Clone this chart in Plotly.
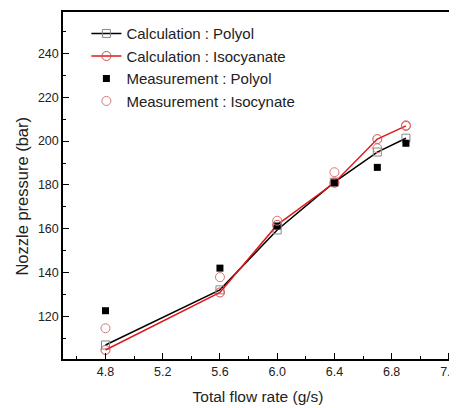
import plotly.graph_objects as go

flow = [4.8, 5.6, 6.0, 6.4, 6.7, 6.9]
calc_polyol = [107.1, 132.2, 159.5, 181.3, 195.0, 201.3]
calc_iso = [104.8, 131.0, 161.8, 181.0, 200.9, 206.9]
meas_polyol = [122.7, 142.1, 161.3, 181.0, 188.0, 199.0]
meas_iso = [114.7, 138.0, 163.7, 185.8, 196.7, 207.2]

x_ticks = [4.8, 5.2, 5.6, 6.0, 6.4, 6.8, 7.2]
y_ticks = [120, 140, 160, 180, 200, 220, 240]

fig = go.Figure()
fig.add_trace(go.Scatter(x=flow, y=calc_polyol, mode="lines+markers", name="Calculation : Polyol",
                         line=dict(color="black", width=1.5),
                         marker=dict(symbol="square-open", size=8, color="#888888", line=dict(width=1))))
fig.add_trace(go.Scatter(x=flow, y=calc_iso, mode="lines+markers", name="Calculation : Isocyanate",
                         line=dict(color="#e01818", width=1.5),
                         marker=dict(symbol="circle-open", size=9, color="#c85050", line=dict(width=1))))
fig.add_trace(go.Scatter(x=flow, y=meas_polyol, mode="markers", name="Measurement : Polyol",
                         marker=dict(symbol="square", size=7, color="black")))
fig.add_trace(go.Scatter(x=flow, y=meas_iso, mode="markers", name="Measurement : Isocynate",
                         marker=dict(symbol="circle-open", size=9, color="#d87878", line=dict(width=1))))

axis_common = dict(showline=True, linecolor="black", linewidth=1.5, mirror=True,
                   ticks="inside", ticklen=6, tickcolor="black", tickwidth=1,
                   showgrid=False, zeroline=False, automargin=False,
                   ticklabeloverflow="allow",
                   tickfont=dict(family="Liberation Sans, Arial", size=12.5, color="#222222"))

fig.update_xaxes(range=[4.503, 7.229], tickvals=x_ticks, ticktext=[f"{v:.1f}" for v in x_ticks],
                 minor=dict(dtick=0.2, tick0=4.6, ticks="inside", ticklen=3, tickcolor="black"),
                 title=dict(text="Total flow rate (g/s)", font=dict(family="Liberation Sans, Arial", size=15.5, color="#222222"), standoff=13),
                 **axis_common)
fig.update_yaxes(range=[100.7, 258.8], tickvals=y_ticks, ticktext=[str(v) for v in y_ticks],
                 minor=dict(dtick=10, tick0=110, ticks="inside", ticklen=3, tickcolor="black"),
                 **axis_common)

fig.add_annotation(text="Nozzle pressure (bar)", xref="paper", yref="paper", x=0, y=0.468,
                   xshift=-41, xanchor="center", yanchor="middle", textangle=-90, showarrow=False,
                   font=dict(family="Liberation Sans, Arial", size=16.5, color="#222222"))

# page body has an 8px margin, so the figure is sized/offset to compensate
fig.update_layout(width=449, height=400, margin=dict(l=55, r=4, t=4, b=49),
                  plot_bgcolor="white", paper_bgcolor="white",
                  legend=dict(x=0.06, y=0.985, xanchor="left", yanchor="top", bgcolor="rgba(0,0,0,0)",
                              font=dict(family="Liberation Sans, Arial", size=15, color="#222222"),
                              tracegroupgap=0, itemwidth=30))

fig.write_html("out.html")
